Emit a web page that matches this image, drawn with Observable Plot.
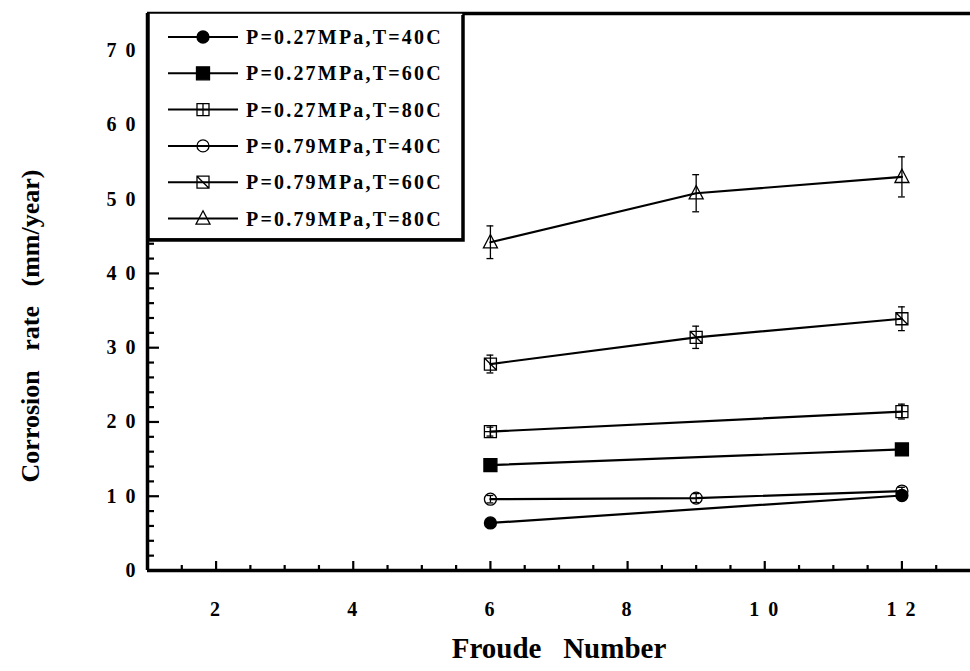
<!DOCTYPE html>
<html><head><meta charset="utf-8">
<script src="https://cdn.jsdelivr.net/npm/d3@7"></script>
<script src="https://cdn.jsdelivr.net/npm/@observablehq/plot@0.6"></script>
<style>
body{margin:0;background:#fff}
#chart svg{font-family:"Liberation Serif","Times New Roman",serif;background:#fff}
g[aria-label="x-axis tick label"] text, g[aria-label="y-axis tick label"] text{letter-spacing:2px}
</style></head><body><div id="chart"></div>
<script>
// ---- data ----
const froude = [6, 9, 12];
const seriesNames = ["P=0.27MPa,T=40C","P=0.27MPa,T=60C","P=0.27MPa,T=80C","P=0.79MPa,T=40C","P=0.79MPa,T=60C","P=0.79MPa,T=80C"];
const rate_027_40 = [6.4, null, 10.1];
const rate_027_60 = [14.2, null, 16.3];
const rate_027_80 = [18.7, null, 21.4];
const rate_079_40 = [9.6, 9.75, 10.7];
const rate_079_60 = [27.8, 31.4, 33.9];
const rate_079_80 = [44.2, 50.8, 53.0];
const err_027_40 = [0, null, 0];
const err_027_60 = [0, null, 0];
const err_027_80 = [0.6, null, 1.0];
const err_079_40 = [0.5, 0.6, 0.5];
const err_079_60 = [1.2, 1.5, 1.6];
const err_079_80 = [2.2, 2.5, 2.7];
const xTicks = [2, 4, 6, 8, 10, 12];
const xTickLabels = ["2", "4", "6", "8", "1 0", "1 2"];
const xMinorTicks = [1.5, 2.5, 3, 3.5, 4.5, 5, 5.5, 6.5, 7, 7.5, 8.5, 9, 9.5, 10.5, 11, 11.5, 12.5];
const yTicks = [0, 10, 20, 30, 40, 50, 60, 70];
const yTickLabels = ["0", "1 0", "2 0", "3 0", "4 0", "5 0", "6 0", "7 0"];
const yMinorTicks = [2, 4, 6, 8, 12, 14, 16, 18, 22, 24, 26, 28, 32, 34, 36, 38, 42, 44, 46, 48, 52, 54, 56, 58, 62, 64, 66, 68, 72, 74];
const xTitle = "Froude   Number";
const yTitle = "Corrosion   rate   (mm/year)";

// ---- symbols ----
const rad = s => Math.sqrt(s / Math.PI);
const symCircle = {draw(c, s){ const r = rad(s); c.moveTo(r, 0); c.arc(0, 0, r, 0, 2 * Math.PI); c.closePath(); }};
const symSquare = {draw(c, s){ const r = rad(s); c.rect(-r, -r, 2 * r, 2 * r); }};
const symSquarePlus = {draw(c, s){ const r = rad(s); c.rect(-r, -r, 2 * r, 2 * r); c.moveTo(0, -r); c.lineTo(0, r); c.moveTo(-r, 0); c.lineTo(r, 0); }};
const symSquareSlash = {draw(c, s){ const r = rad(s); c.rect(-r, -r, 2 * r, 2 * r); c.moveTo(-r, -r); c.lineTo(r, r); }};
const symTriangle = {draw(c, s){ const r = rad(s); c.moveTo(0, -r * 1.1); c.lineTo(r, r * 0.8); c.lineTo(-r, r * 0.8); c.closePath(); }};

const series = [
  {name: seriesNames[0], y: rate_027_40, e: err_027_40, sym: symCircle, fill: "black", r: 6},
  {name: seriesNames[1], y: rate_027_60, e: err_027_60, sym: symSquare, fill: "black", r: 6.5},
  {name: seriesNames[2], y: rate_027_80, e: err_027_80, sym: symSquarePlus, fill: "none", r: 6},
  {name: seriesNames[3], y: rate_079_40, e: err_079_40, sym: symCircle, fill: "none", r: 6},
  {name: seriesNames[4], y: rate_079_60, e: err_079_60, sym: symSquareSlash, fill: "none", r: 6},
  {name: seriesNames[5], y: rate_079_80, e: err_079_80, sym: symTriangle, fill: "none", r: 7}
];
const rows = series.flatMap(s => froude.map((x, i) => ({series: s.name, x, y: s.y[i], e: s.e[i]})).filter(d => d.y != null));
const errRows = rows.filter(d => d.e > 0);
const xLab = new Map(xTicks.map((t, i) => [t, xTickLabels[i]]));
const yLab = new Map(yTicks.map((t, i) => [t, yTickLabels[i]]));
const W = 970, H = 671, ML = 147, MR = 0, MT = 13, MB = 101;
const noLabel = () => "";

const plot = Plot.plot({
  width: W, height: H,
  marginLeft: ML, marginRight: MR, marginTop: MT, marginBottom: MB,
  x: {domain: [1, 13]},
  y: {domain: [0, 75]},
  style: {fontFamily: "Liberation Serif, Times New Roman, serif", color: "black", background: "white"},
  marks: [
    Plot.axisX(xTicks, {tickSize: 0, tickPadding: 31, tickFormat: d => xLab.get(d), fontSize: 20, fontWeight: "bold", label: null}),
    Plot.axisY(yTicks, {tickSize: 0, tickPadding: 10, tickFormat: d => yLab.get(d), fontSize: 20, fontWeight: "bold", label: null}),
    // inward ticks: top/right axes shifted onto the bottom/left axis lines
    Plot.axisX(xTicks, {anchor: "top", dy: H - MT - MB, tickSize: 10, strokeWidth: 2.2, tickFormat: noLabel, label: null}),
    Plot.axisX(xMinorTicks, {anchor: "top", dy: H - MT - MB, tickSize: 6, strokeWidth: 2.2, tickFormat: noLabel, label: null}),
    Plot.axisY(yTicks, {anchor: "right", dx: -(W - ML - MR), tickSize: 11, strokeWidth: 2.2, tickFormat: noLabel, label: null}),
    Plot.axisY(yMinorTicks, {anchor: "right", dx: -(W - ML - MR), tickSize: 6, strokeWidth: 2.2, tickFormat: noLabel, label: null}),
    Plot.text([xTitle], {frameAnchor: "bottom", textAnchor: "middle", dy: 87, fontSize: 29, fontWeight: "bold", fill: "black"}),
    Plot.text([yTitle], {frameAnchor: "left", textAnchor: "middle", dx: -117, dy: 34, rotate: -90, fontSize: 26, fontWeight: "bold", fill: "black"}),
    Plot.ruleY([0], {stroke: "black", strokeWidth: 3.5}),
    Plot.ruleY([75], {stroke: "black", strokeWidth: 3.5}),
    Plot.ruleX([1], {stroke: "black", strokeWidth: 3.5}),
    Plot.line(rows, {x: "x", y: "y", z: "series", stroke: "black", strokeWidth: 2.2}),
    Plot.ruleX(errRows, {x: "x", y1: d => d.y - d.e, y2: d => d.y + d.e, stroke: "black", strokeWidth: 1.3}),
    Plot.ruleY(errRows, {y: d => d.y + d.e, x1: d => d.x - 0.05, x2: d => d.x + 0.05, stroke: "black", strokeWidth: 1.3}),
    Plot.ruleY(errRows, {y: d => d.y - d.e, x1: d => d.x - 0.05, x2: d => d.x + 0.05, stroke: "black", strokeWidth: 1.3}),
    ...series.map(s => Plot.dot(rows.filter(d => d.series === s.name), {x: "x", y: "y", symbol: s.sym, r: s.r, fill: s.fill, stroke: "black", strokeWidth: 1.3}))
  ]
});
document.getElementById("chart").appendChild(plot);

// ---- legend (drawn inside the plot svg) ----
const svg = d3.select(plot);
const lg = svg.append("g");
lg.append("rect").attr("x", 149).attr("y", 13).attr("width", 314).attr("height", 226)
  .attr("fill", "white").attr("stroke", "black").attr("stroke-width", 1.5);
lg.append("path").attr("d", "M463,15V240H149").attr("fill", "none").attr("stroke", "black").attr("stroke-width", 3.5);
series.forEach((s, i) => {
  const y = 37 + i * 36.3;
  lg.append("line").attr("x1", 168).attr("x2", 238).attr("y1", y).attr("y2", y).attr("stroke", "black").attr("stroke-width", 2);
  lg.append("path").attr("transform", `translate(203,${y})`).attr("d", d3.symbol(s.sym, Math.PI * s.r * s.r)())
    .attr("fill", s.fill).attr("stroke", "black").attr("stroke-width", 1.3);
  lg.append("text").attr("x", 246).attr("y", y).attr("dy", "0.35em").attr("text-anchor", "start")
    .attr("font-size", 20).attr("font-weight", "bold")
    .attr("letter-spacing", "2.2px").attr("fill", "black").text(s.name);
});
</script></body></html>
